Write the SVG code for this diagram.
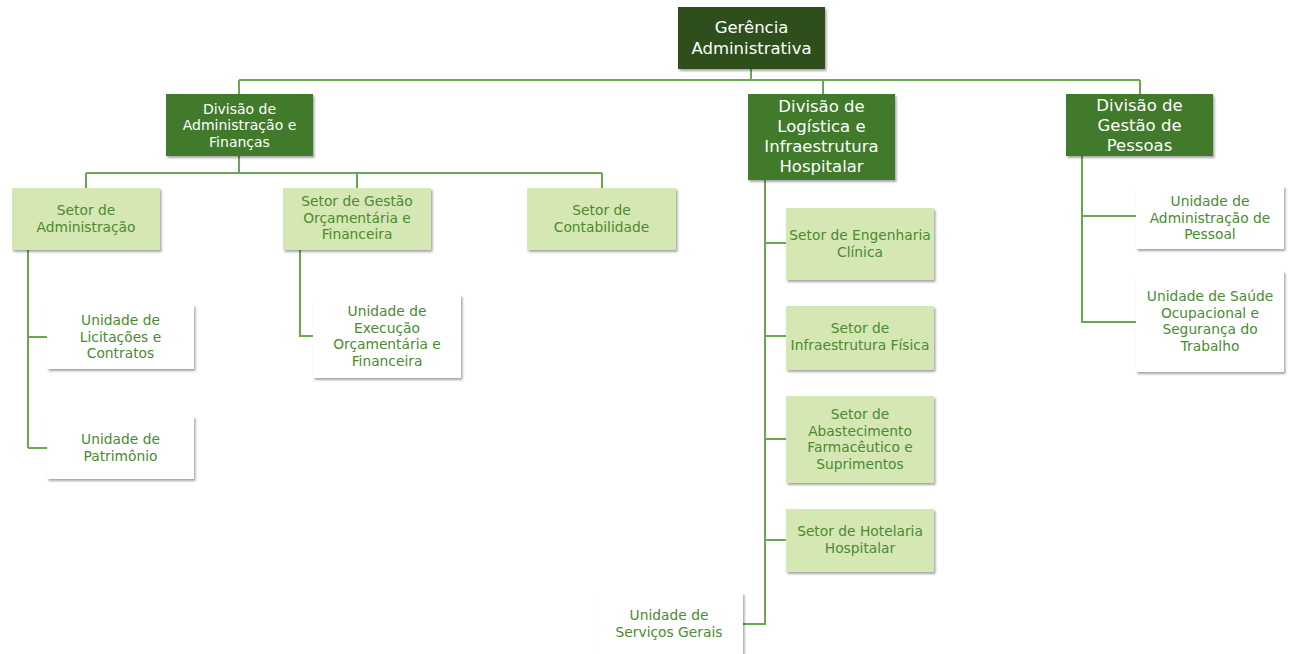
<svg xmlns="http://www.w3.org/2000/svg" width="1295" height="654" viewBox="0 0 1295 654">
<defs>
<filter id="sh" x="-10%" y="-10%" width="125%" height="130%">
<feDropShadow dx="1.5" dy="2" stdDeviation="1.2" flood-color="#000" flood-opacity="0.35"/>
</filter>
<style>
.top{fill:#2d4f1f;filter:url(#sh)}
.div{fill:#3f7a2b;filter:url(#sh)}
.set{fill:#d5e7b3;filter:url(#sh)}
.uni{fill:#ffffff;filter:url(#sh)}
text{font-family:"DejaVu Sans","Liberation Sans",sans-serif;text-anchor:middle;dominant-baseline:central}
.tw{fill:#ffffff}
.tg{fill:#4b8a32}
.conn{fill:none;stroke:#6aa84f;stroke-width:2}
</style>
</defs>
<rect width="1295" height="654" fill="#ffffff"/>
<g id="connectors" class="conn">
<path d="M751 69V80M239 80H1140M239 80V94M823 80V94M1140 80V94"/>
<path d="M239 156V173M86 173H602M86 173V188M357 173V188M602 173V188"/>
<path d="M28 250V448M28 337H47M28 448H47"/>
<path d="M300 250V336H313"/>
<path d="M765 180V624H743M765 243H786M765 336H786M765 439H786M765 540H786"/>
<path d="M1082 156V322H1136M1082 216H1136"/>
</g>
<g id="n-gerencia"><rect class="top" x="678" y="7" width="147" height="62"/>
<text class="tw" font-size="16.5" x="751.5" y="27.5">Gerência<tspan x="751.5" dy="20">Administrativa</tspan></text></g>
<g id="n-div-adm"><rect class="div" x="166" y="94" width="147" height="62"/>
<text class="tw" font-size="14" x="239.5" y="108.5">Divisão de<tspan x="239.5" dy="16.5">Administração e</tspan><tspan x="239.5" dy="16.5">Finanças</tspan></text></g>
<g id="n-div-log"><rect class="div" x="748" y="94" width="147" height="86"/>
<text class="tw" font-size="16.5" x="821.5" y="106">Divisão de<tspan x="821.5" dy="20">Logística e</tspan><tspan x="821.5" dy="20">Infraestrutura</tspan><tspan x="821.5" dy="20">Hospitalar</tspan></text></g>
<g id="n-div-pes"><rect class="div" x="1066" y="94" width="147" height="62"/>
<text class="tw" font-size="16.5" x="1139.5" y="105.5">Divisão de<tspan x="1139.5" dy="19.5">Gestão de</tspan><tspan x="1139.5" dy="19.5">Pessoas</tspan></text></g>
<g id="n-set-adm"><rect class="set" x="12" y="188" width="148" height="62"/>
<text class="tg" font-size="13.8" x="86" y="210">Setor de<tspan x="86" dy="16.5">Administração</tspan></text></g>
<g id="n-set-gof"><rect class="set" x="283" y="188" width="148" height="62"/>
<text class="tg" font-size="13.8" x="357" y="201">Setor de Gestão<tspan x="357" dy="16.5">Orçamentária e</tspan><tspan x="357" dy="16.5">Financeira</tspan></text></g>
<g id="n-set-cont"><rect class="set" x="527" y="188" width="149" height="62"/>
<text class="tg" font-size="13.8" x="601.5" y="210">Setor de<tspan x="601.5" dy="16.5">Contabilidade</tspan></text></g>
<g id="n-uni-lic"><rect class="uni" x="47" y="305" width="147" height="64"/>
<text class="tg" font-size="13.8" x="120.5" y="320">Unidade de<tspan x="120.5" dy="16.5">Licitações e</tspan><tspan x="120.5" dy="16.5">Contratos</tspan></text></g>
<g id="n-uni-pat"><rect class="uni" x="47" y="416" width="147" height="63"/>
<text class="tg" font-size="13.8" x="120.5" y="439">Unidade de<tspan x="120.5" dy="16.5">Patrimônio</tspan></text></g>
<g id="n-uni-exe"><rect class="uni" x="313" y="295" width="148" height="83"/>
<text class="tg" font-size="13.8" x="387" y="311">Unidade de<tspan x="387" dy="16.5">Execução</tspan><tspan x="387" dy="16.5">Orçamentária e</tspan><tspan x="387" dy="16.5">Financeira</tspan></text></g>
<g id="n-set-eng"><rect class="set" x="786" y="208" width="148" height="72"/>
<text class="tg" font-size="13.8" x="860" y="235">Setor de Engenharia<tspan x="860" dy="16.5">Clínica</tspan></text></g>
<g id="n-set-inf"><rect class="set" x="786" y="306" width="148" height="64"/>
<text class="tg" font-size="13.8" x="860" y="328">Setor de<tspan x="860" dy="16.5">Infraestrutura Física</tspan></text></g>
<g id="n-set-abs"><rect class="set" x="786" y="396" width="148" height="87"/>
<text class="tg" font-size="13.8" x="860" y="414">Setor de<tspan x="860" dy="16.5">Abastecimento</tspan><tspan x="860" dy="16.5">Farmacêutico e</tspan><tspan x="860" dy="16.5">Suprimentos</tspan></text></g>
<g id="n-set-hot"><rect class="set" x="786" y="509" width="148" height="63"/>
<text class="tg" font-size="13.8" x="860" y="531">Setor de Hotelaria<tspan x="860" dy="16.5">Hospitalar</tspan></text></g>
<g id="n-uni-ser"><rect class="uni" x="595" y="593" width="148" height="70"/>
<text class="tg" font-size="13.8" x="669" y="615">Unidade de<tspan x="669" dy="16.5">Serviços Gerais</tspan></text></g>
<g id="n-uni-adp"><rect class="uni" x="1136" y="186" width="148" height="63"/>
<text class="tg" font-size="13.8" x="1210" y="201">Unidade de<tspan x="1210" dy="16.5">Administração de</tspan><tspan x="1210" dy="16.5">Pessoal</tspan></text></g>
<g id="n-uni-sau"><rect class="uni" x="1136" y="271" width="148" height="101"/>
<text class="tg" font-size="13.8" x="1210" y="296">Unidade de Saúde<tspan x="1210" dy="16.5">Ocupacional e</tspan><tspan x="1210" dy="16.5">Segurança do</tspan><tspan x="1210" dy="16.5">Trabalho</tspan></text></g>
</svg>
